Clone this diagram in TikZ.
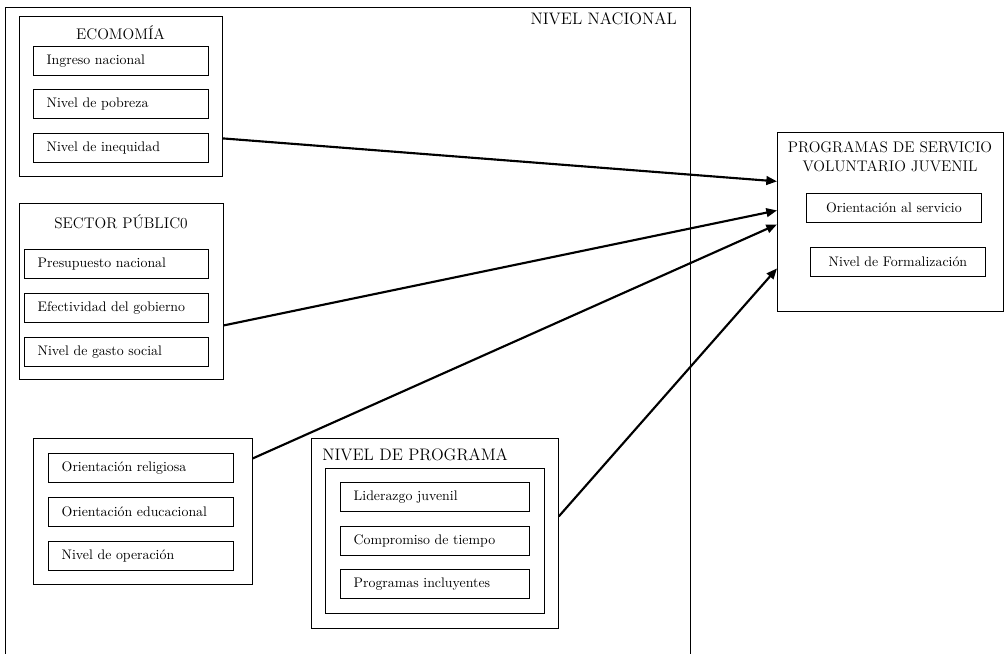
\documentclass[tikz,border=0pt]{standalone}
\usetikzlibrary{arrows.meta}
\begin{document}
\begin{tikzpicture}[x=0.75pt,y=-0.75pt,
  box/.style={draw, line width=0.6pt, anchor=north west, inner sep=0pt},
  item/.style={draw, line width=0.6pt, anchor=north west, inner xsep=10pt, inner ysep=0pt,
     align=left, minimum height=21.75pt, font=\fontsize{10.4}{12}\selectfont},
  citem/.style={draw, line width=0.6pt, anchor=north west, inner sep=0pt,
     align=center, minimum height=21.75pt, minimum width=131.25pt, font=\fontsize{10.4}{12}\selectfont},
  title/.style={inner sep=0pt, font=\fontsize{11.5}{14.25}\selectfont},
  bigtitle/.style={inner sep=0pt, font=\fontsize{12.5}{14}\selectfont},
  arrow/.style={line width=1.6pt, -{Triangle[length=8pt,width=6.5pt]}}]
\useasboundingbox (0,0) rectangle (1008,654);

% outer national frame
\node[box, minimum width=513.75pt, minimum height=500pt] (nac) at (5,7) {};
\node[bigtitle, anchor=north east] (nact) at (677,12) {NIVEL NACIONAL};

% Economia
\node[box, minimum width=152.25pt, minimum height=120pt] (eco) at (19,16) {};
\node[title] (ecot) at (120.5,33) {ECOMOMÍA};
\node[item, text width=111.25pt] (e1) at (33,46) {Ingreso nacional};
\node[item, text width=111.25pt] (e2) at (33,89) {Nivel de pobreza};
\node[item, text width=111.25pt] (e3) at (33,133) {Nivel de inequidad};

% Sector publico
\node[box, minimum width=153pt, minimum height=132pt] (sec) at (19,203) {};
\node[title] (sect) at (121,222) {SECTOR PÚBLIC0};
\node[item, text width=118pt] (s1) at (24,249) {Presupuesto nacional};
\node[item, text width=118pt] (s2) at (24,293) {Efectividad del gobierno};
\node[item, text width=118pt] (s3) at (24,337) {Nivel de gasto social};

% Orientacion
\node[box, minimum width=164.25pt, minimum height=109.5pt] (ori) at (33,438) {};
\node[item, text width=118.75pt] (o1) at (48,453) {Orientación religiosa};
\node[item, text width=118.75pt] (o2) at (48,497) {Orientación educacional};
\node[item, text width=118.75pt] (o3) at (48,541) {Nivel de operación};

% Nivel de programa
\node[box, minimum width=185.25pt, minimum height=142.5pt] (npr) at (311,438) {};
\node[bigtitle, anchor=west] (nprt) at (322,455) {NIVEL DE PROGRAMA};
\node[box, minimum width=164.25pt, minimum height=108.75pt] (npi) at (325,468) {};
\node[item, text width=121.75pt] (p1) at (340,482) {Liderazgo juvenil};
\node[item, text width=121.75pt] (p2) at (340,526) {Compromiso de tiempo};
\node[item, text width=121.75pt] (p3) at (340,569) {Programas incluyentes};

% Programas de servicio voluntario juvenil
\node[box, minimum width=169.5pt, minimum height=134.25pt] (prog) at (777,132) {};
\node[title, align=center] (progt) at (890,157) {PROGRAMAS DE SERVICIO\\VOLUNTARIO JUVENIL};
\node[citem] (r1) at (806,193) {Orientación al servicio};
\node[citem] (r2) at (810,247) {Nivel de Formalización};

% arrows
\draw[arrow] ([yshift=-31.5pt]eco.east) -- ([yshift=30.4pt]prog.west);
\draw[arrow] ([yshift=-25.5pt]sec.east) -- ([yshift=8.6pt]prog.west);
\draw[arrow] ([yshift=39.75pt]ori.east) -- ([yshift=-1.9pt]prog.west);
\draw[arrow] ([yshift=12.75pt]npr.east) -- ([yshift=-34.9pt]prog.west);
\end{tikzpicture}
\end{document}
